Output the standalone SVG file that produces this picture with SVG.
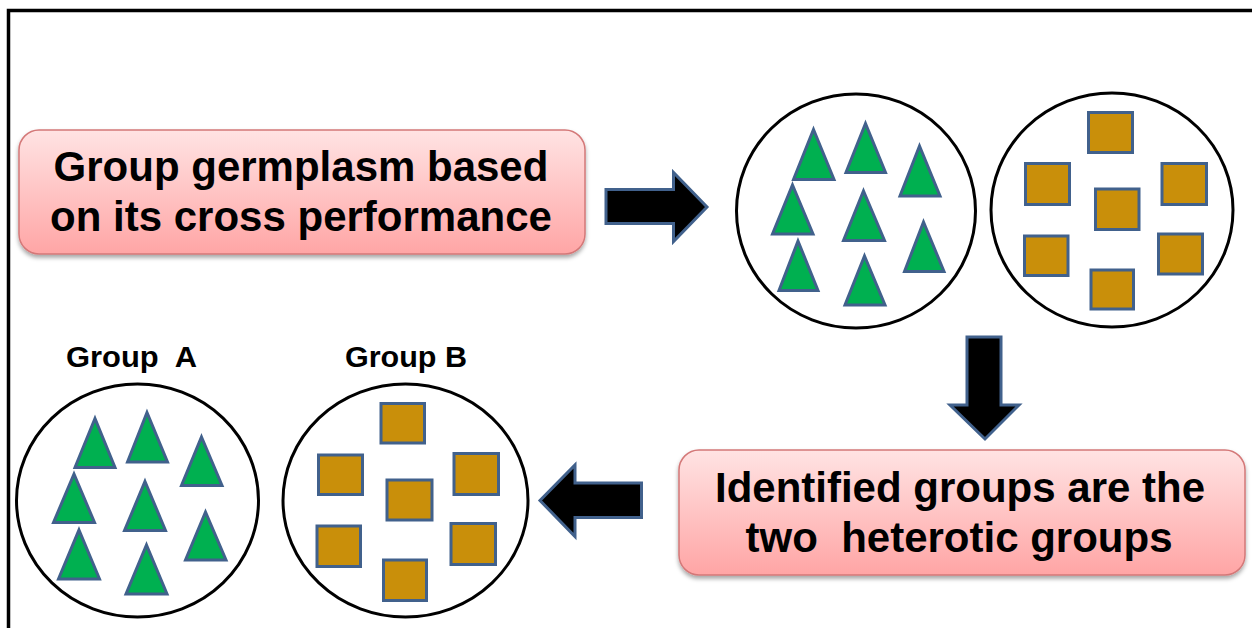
<svg xmlns="http://www.w3.org/2000/svg" width="1252" height="628" viewBox="0 0 1252 628">
<defs>
<linearGradient id="boxGrad" x1="0" y1="0" x2="0" y2="1">
<stop offset="0" stop-color="#FFE3E3"/>
<stop offset="1" stop-color="#FFA5A5"/>
</linearGradient>
<filter id="shadow" x="-5%" y="-10%" width="110%" height="130%">
<feDropShadow dx="0" dy="3" stdDeviation="2" flood-color="#000" flood-opacity="0.35"/>
</filter>
<style>
.box{fill:url(#boxGrad);stroke:#D47878;stroke-width:1.5;filter:url(#shadow);}
.boxtxt{font-family:"Liberation Sans",Arial,sans-serif;font-weight:bold;font-size:42px;fill:#000;text-anchor:middle;}
.lbl{font-family:"Liberation Sans",Arial,sans-serif;font-weight:bold;font-size:29px;fill:#000;}
.circ{fill:#fff;stroke:#000;stroke-width:3;}
.tri{fill:#00B050;stroke:#41618C;stroke-width:3;stroke-linejoin:miter;}
.sq{fill:#C98F0A;stroke:#41618C;stroke-width:3;}
.arrow{fill:#000;stroke:#41618C;stroke-width:3;stroke-linejoin:miter;}
</style>
</defs>
<rect x="0" y="0" width="1252" height="628" fill="#fff"/>
<rect x="8.5" y="10.5" width="1300" height="700" fill="none" stroke="#000" stroke-width="3.5"/>

<g id="box-group-germplasm">
<rect class="box" x="19" y="130" width="566" height="124" rx="20" ry="20"/>
<text class="boxtxt" x="301" y="181">Group germplasm based</text>
<text class="boxtxt" x="301" y="231">on its cross performance</text>
</g>

<g id="box-identified">
<rect class="box" x="679" y="450" width="566" height="125" rx="20" ry="20"/>
<text class="boxtxt" x="960" y="502" xml:space="preserve">Identified groups are the</text>
<text class="boxtxt" x="959" y="552" xml:space="preserve">two  heterotic groups</text>
</g>

<g id="circle-top-triangles">
<ellipse class="circ" cx="856" cy="211" rx="119.5" ry="117"/>
<polygon class="tri" points="813.5,129.5 834,179.5 793.5,179.5"/>
<polygon class="tri" points="865.5,123.5 885.5,172.5 846,172.5"/>
<polygon class="tri" points="919.5,146 940,196 900,196"/>
<polygon class="tri" points="792.5,185 813,234 772.5,234"/>
<polygon class="tri" points="863.5,191 884.5,240.5 843.5,240.5"/>
<polygon class="tri" points="923.5,222 944,271.5 904.5,271.5"/>
<polygon class="tri" points="798,241 818,290.5 779,290.5"/>
<polygon class="tri" points="864.5,256 885,305 845,305"/>
</g>

<g id="circle-top-squares">
<ellipse class="circ" cx="1112" cy="210" rx="121" ry="117"/>
<rect class="sq" x="1088.5" y="112.5" width="44" height="40"/>
<rect class="sq" x="1025.5" y="163.5" width="44" height="41"/>
<rect class="sq" x="1162" y="163.5" width="44.5" height="41"/>
<rect class="sq" x="1095.5" y="189" width="43.5" height="40.5"/>
<rect class="sq" x="1024.5" y="236" width="43.5" height="39.5"/>
<rect class="sq" x="1158.5" y="234" width="44" height="40"/>
<rect class="sq" x="1091" y="270" width="42.5" height="39"/>
</g>

<g id="group-a">
<text class="lbl" x="66" y="367" xml:space="preserve" textLength="131" lengthAdjust="spacingAndGlyphs">Group  A</text>
<ellipse class="circ" cx="137.5" cy="500.5" rx="121" ry="116.5"/>
<polygon class="tri" points="95,418.5 115,467.5 75,467.5"/>
<polygon class="tri" points="147,412.5 167.5,462 127.5,462"/>
<polygon class="tri" points="201.5,437 222,485.5 181.5,485.5"/>
<polygon class="tri" points="74,474 94.5,522.5 53.5,522.5"/>
<polygon class="tri" points="145,481.5 165.5,530.5 124.5,530.5"/>
<polygon class="tri" points="205.5,512 226,560 185.5,560"/>
<polygon class="tri" points="79,530 99.5,579 58.5,579"/>
<polygon class="tri" points="146.5,545 167,594 126,594"/>
</g>

<g id="group-b">
<text class="lbl" x="345" y="367" textLength="122" lengthAdjust="spacingAndGlyphs">Group B</text>
<ellipse class="circ" cx="405.5" cy="500.5" rx="122.5" ry="116.5"/>
<rect class="sq" x="381" y="403.5" width="43.5" height="39.5"/>
<rect class="sq" x="318.5" y="455" width="44" height="39.5"/>
<rect class="sq" x="454" y="453.5" width="44.5" height="41"/>
<rect class="sq" x="387" y="480" width="45" height="40"/>
<rect class="sq" x="317" y="526" width="43.5" height="40.5"/>
<rect class="sq" x="451" y="523.5" width="44.5" height="41"/>
<rect class="sq" x="383.5" y="560" width="43" height="40.5"/>
</g>

<g id="connectors">
<polygon class="arrow" points="606,189.5 673.5,189.5 673.5,172.5 707,207 673.5,241.5 673.5,223.5 606,223.5"/>
<polygon class="arrow" points="967,337 1001,337 1001,405 1019,405 985,439 950,405 967,405"/>
<polygon class="arrow" points="641.5,483 575,483 575,465 540,500.5 575,536.5 575,517.5 641.5,517.5"/>
</g>
</svg>
